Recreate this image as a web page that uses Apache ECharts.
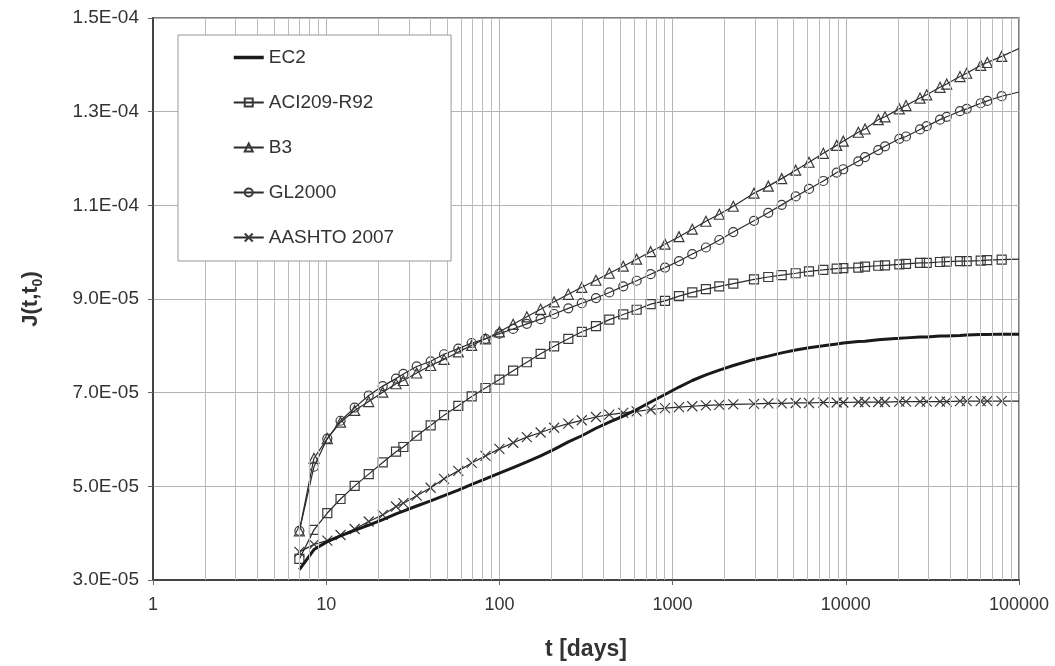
<!DOCTYPE html>
<html><head><meta charset="utf-8">
<script src="https://cdn.jsdelivr.net/npm/echarts@6/dist/echarts.min.js"></script>
<style>html,body{margin:0;padding:0;background:#fff}#c{width:1055px;height:666px}</style>
</head><body><div id="c"></div>
<script>
// time t [days]
const tDays = [7, 8.5, 10.15, 12.1, 14.6, 17.6, 21.2, 25.3, 27.9, 33.3, 40.1, 47.9, 57.9, 69.2, 83.1, 100, 120, 144, 173, 207, 250, 299, 361, 431, 519, 620, 747, 904, 1089, 1299, 1557, 1861, 2241, 2951, 3568, 4265, 5137, 6131, 7418, 8858, 9672, 11810, 12910, 15400, 16840, 20370, 22260, 26820, 29320, 34990, 38240, 45630, 49890, 60110, 65620, 79450, 100000];
// J(t,t0) values, in units of 1E-05
const ec2 = [3.22,3.65,3.82,3.94,4.06,4.17,4.29,4.41,4.47,4.58,4.69,4.80,4.92,5.04,5.16,5.28,5.40,5.52,5.65,5.79,5.95,6.08,6.24,6.37,6.50,6.64,6.80,6.96,7.12,7.26,7.38,7.48,7.58,7.71,7.78,7.85,7.91,7.96,8.00,8.04,8.06,8.09,8.10,8.13,8.14,8.16,8.17,8.19,8.19,8.21,8.21,8.22,8.23,8.24,8.24,8.25,8.25];
const aci = [3.45,4.07,4.43,4.73,5.01,5.26,5.51,5.74,5.84,6.08,6.30,6.52,6.72,6.92,7.10,7.28,7.47,7.65,7.83,7.99,8.15,8.30,8.42,8.56,8.67,8.77,8.89,8.96,9.06,9.14,9.21,9.27,9.33,9.42,9.47,9.51,9.55,9.59,9.62,9.65,9.66,9.67,9.69,9.71,9.72,9.74,9.75,9.77,9.77,9.79,9.80,9.81,9.81,9.82,9.83,9.84,9.85];
const b3 = [4.05,5.60,6.02,6.37,6.62,6.81,7.01,7.19,7.26,7.42,7.58,7.71,7.87,8.01,8.15,8.30,8.46,8.62,8.78,8.94,9.10,9.25,9.40,9.55,9.70,9.85,10.01,10.17,10.33,10.49,10.66,10.81,10.98,11.26,11.41,11.57,11.75,11.92,12.11,12.28,12.37,12.56,12.63,12.83,12.89,13.06,13.13,13.29,13.36,13.52,13.59,13.75,13.82,13.99,14.05,14.18,14.35];
const gl2000 = [4.05,5.42,6.02,6.40,6.68,6.94,7.14,7.30,7.40,7.56,7.67,7.82,7.94,8.06,8.15,8.26,8.36,8.47,8.57,8.68,8.80,8.91,9.02,9.14,9.27,9.39,9.53,9.67,9.81,9.96,10.10,10.26,10.43,10.67,10.84,11.01,11.19,11.35,11.52,11.70,11.77,11.94,12.03,12.18,12.26,12.42,12.47,12.62,12.69,12.83,12.89,13.01,13.06,13.18,13.23,13.33,13.42];
const aashto = [3.60,3.76,3.84,3.96,4.09,4.25,4.39,4.57,4.64,4.80,4.97,5.16,5.33,5.50,5.65,5.80,5.93,6.05,6.15,6.25,6.34,6.41,6.48,6.53,6.57,6.60,6.64,6.67,6.69,6.71,6.73,6.74,6.75,6.76,6.77,6.77,6.78,6.78,6.79,6.79,6.79,6.80,6.80,6.80,6.80,6.81,6.81,6.81,6.81,6.81,6.81,6.82,6.82,6.82,6.82,6.82,6.82];

const seriesNames = ['EC2', 'ACI209-R92', 'B3', 'GL2000', 'AASHTO 2007'];
const xTickLabels = ['1', '10', '100', '1000', '10000', '100000'];
const yTickLabels = ['3.0E-05', '5.0E-05', '7.0E-05', '9.0E-05', '1.1E-04', '1.3E-04', '1.5E-04'];

const FONT = '"Liberation Sans", Arial, sans-serif';
const last = tDays.length - 1;

function pts(vals, noEndMark) {
  return tDays.map((t, i) => (noEndMark && i === last) ? { value: [t, vals[i]], symbol: 'none' } : [t, vals[i]]);
}

// log-minor vertical grid positions (2..9 per decade)
const xMinor = [];
for (let d = 1; d <= 10000; d *= 10) for (let m = 2; m <= 9; m++) xMinor.push(m * d);

const crossPath = 'path://M0,0L10,10M10,0L0,10';

function markSeries(name, vals, symbol, size) {
  return {
    name, type: 'line', data: pts(vals, true), z: 3,
    symbol, symbolSize: size,
    lineStyle: { color: '#2a2a2a', width: 1.2 },
    itemStyle: { color: 'rgba(0,0,0,0)', borderColor: '#3a3a3a', borderWidth: 1.2 },
    emphasis: { disabled: true }
  };
}

const chart = echarts.init(document.getElementById('c'), null, { renderer: 'canvas' });
chart.setOption({
  animation: false,
  backgroundColor: '#fff',
  grid: { left: 153, right: 36, top: 18, bottom: 84, show: true, borderColor: '#555', borderWidth: 1.5, backgroundColor: 'transparent' },
  legend: {
    orient: 'vertical', left: 178, top: 35, z: 20,
    padding: [13, 57, 14, 54],
    itemWidth: 30, itemHeight: 10, itemGap: 26,
    backgroundColor: '#fff', borderColor: '#999', borderWidth: 1,
    textStyle: { fontFamily: FONT, fontSize: 19, color: '#333' },
    data: seriesNames.map(n => n === 'EC2' ? { name: n, lineStyle: { width: 3.5, color: '#1a1a1a' } } : n),
    selectedMode: false
  },
  xAxis: {
    type: 'log', logBase: 10, min: 1, max: 100000,
    axisLine: { show: true, lineStyle: { color: '#444', width: 2 } },
    axisTick: { show: true, length: 5, lineStyle: { color: '#666' } },
    axisLabel: {
      margin: 16, fontFamily: FONT, fontSize: 18, color: '#333',
      formatter: v => xTickLabels[Math.round(Math.log10(v))]
    },
    splitLine: { show: true, lineStyle: { color: '#b4b4b4', width: 1 } },
    name: 't [days]', nameLocation: 'middle', nameGap: 58,
    nameTextStyle: { fontFamily: FONT, fontSize: 23, fontWeight: 'bold', color: '#333' }
  },
  yAxis: {
    type: 'value', min: 3, max: 15, interval: 2,
    axisLine: { show: true, lineStyle: { color: '#444', width: 2 } },
    axisTick: { show: true, length: 5, lineStyle: { color: '#666' } },
    axisLabel: {
      margin: 14, fontFamily: FONT, fontSize: 19, color: '#333',
      formatter: v => yTickLabels[Math.round((v - 3) / 2)]
    },
    splitLine: { show: true, lineStyle: { color: '#b4b4b4', width: 1 } },
    name: '{a|J(t,t}{s|0}{a|)}', nameLocation: 'middle', nameRotate: 90, nameGap: 108,
    nameTextStyle: {
      color: '#333',
      rich: {
        a: { fontFamily: FONT, fontSize: 22, fontWeight: 'bold', color: '#333', lineHeight: 28 },
        s: { fontFamily: FONT, fontSize: 14, fontWeight: 'bold', color: '#333', verticalAlign: 'bottom', lineHeight: 28, padding: [7, 0, 0, 0] }
      }
    }
  },
  series: [
    {
      name: '_grid', type: 'line', data: [], z: 1, silent: true,
      markLine: {
        silent: true, symbol: ['none', 'none'], animation: false,
        label: { show: false },
        lineStyle: { color: '#bcbcbc', type: 'solid', width: 1 },
        emphasis: { disabled: true },
        data: xMinor.map(v => ({ xAxis: v }))
      }
    },
    {
      name: 'EC2', type: 'line', data: pts(ec2, false), z: 4,
      symbol: 'none',
      lineStyle: { color: '#1a1a1a', width: 3 },
      itemStyle: { color: 'rgba(0,0,0,0)', borderWidth: 0 },
      emphasis: { disabled: true }
    },
    markSeries('ACI209-R92', aci, 'rect', 9),
    markSeries('B3', b3, 'triangle', 10),
    markSeries('GL2000', gl2000, 'circle', 9),
    markSeries('AASHTO 2007', aashto, crossPath, 10)
  ]
});
</script>
</body></html>
